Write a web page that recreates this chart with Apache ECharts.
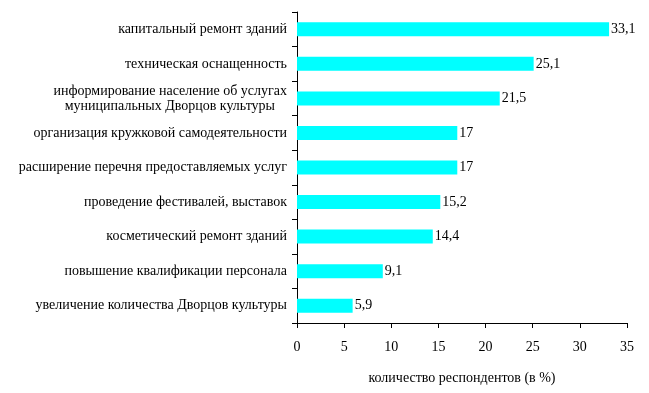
<!DOCTYPE html>
<html><head><meta charset="utf-8">
<script src="https://cdn.jsdelivr.net/npm/echarts@6/dist/echarts.min.js"></script>
<style>html,body{margin:0;padding:0;background:#fff}#c{width:649px;height:393px}</style>
</head><body><div id="c"></div>
<script>
const categories = [
  "капитальный ремонт зданий",
  "техническая оснащенность",
  "информирование население об услугах\nмуниципальных Дворцов культуры",
  "организация кружковой самодеятельности",
  "расширение перечня предоставляемых услуг",
  "проведение фестивалей, выставок",
  "косметический ремонт зданий",
  "повышение квалификации персонала",
  "увеличение количества Дворцов культуры"
];
const values = [33.1, 25.1, 21.5, 17, 17, 15.2, 14.4, 9.1, 5.9];
const valueLabels = ["33,1", "25,1", "21,5", "17", "17", "15,2", "14,4", "9,1", "5,9"];
const xTicks = [0, 5, 10, 15, 20, 25, 30, 35];
const axisTitle = "количество респондентов (в %)";

const font = "'Liberation Serif', 'Times New Roman', serif";
const chart = echarts.init(document.getElementById('c'));
chart.setOption({
  animation: false,
  grid: {left: 297, top: 12, right: 22, bottom: 70, containLabel: false},
  xAxis: {
    type: 'value', min: xTicks[0], max: xTicks[xTicks.length-1], interval: 5,
    name: axisTitle, nameLocation: 'middle', nameGap: 48,
    nameTextStyle: {fontFamily: font, fontSize: 14, color: '#000'},
    axisLine: {show: true, lineStyle: {color: '#000', width: 1}},
    axisTick: {show: true, length: 5, lineStyle: {color: '#000'}},
    axisLabel: {fontFamily: font, fontSize: 14, color: '#000', margin: 17},
    splitLine: {show: false}
  },
  yAxis: {
    type: 'category', data: categories, inverse: true,
    axisLine: {show: true, lineStyle: {color: '#000', width: 1}},
    axisTick: {show: true, length: 5, lineStyle: {color: '#000'}},
    axisLabel: {fontFamily: font, fontSize: 14, color: '#000', margin: 10, align: 'right', lineHeight: 15,
      formatter: v => {
        const parts = v.split('\n');
        if (parts.length === 1) return v;
        return '{a|' + parts[0] + '}\n{b|' + parts[1] + '}';
      },
      rich: {
        a: {fontFamily: font, fontSize: 14, color: '#000', lineHeight: 15},
        b: {fontFamily: font, fontSize: 14, color: '#000', lineHeight: 15, padding: [0, 12, 0, 0]}
      }
    },
    splitLine: {show: false}
  },
  series: [{
    type: 'bar', data: values, barWidth: 14,
    itemStyle: {color: '#00FFFF'},
    label: {show: true, position: 'right', distance: 2, fontFamily: font, fontSize: 14, color: '#000',
      formatter: p => valueLabels[p.dataIndex]}
  }]
});
</script></body></html>
